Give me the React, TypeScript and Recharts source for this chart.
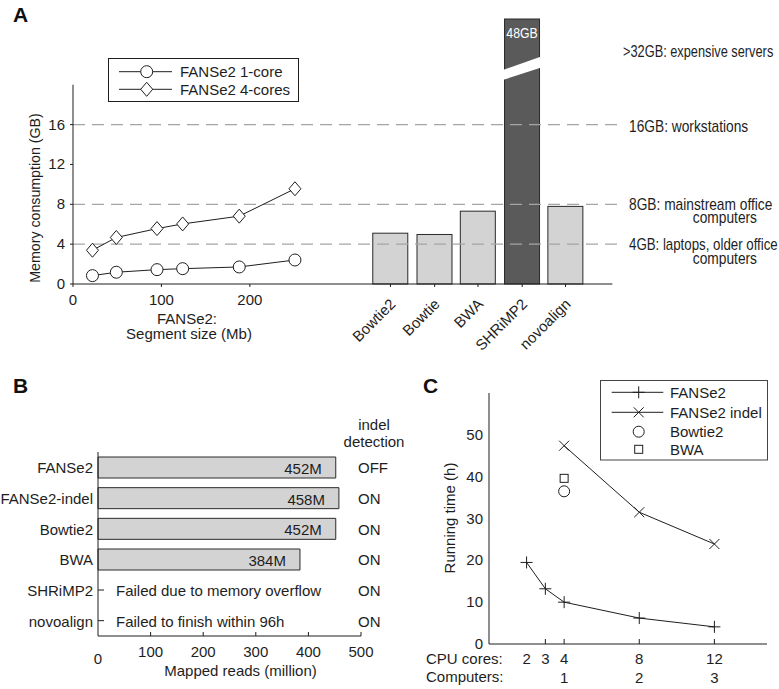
import React from "react";
import {
  ComposedChart,
  BarChart,
  Bar,
  Line,
  XAxis,
  YAxis,
  ReferenceLine,
  LabelList,
} from "recharts";

const SANS = "'Liberation Sans', Arial, Helvetica, sans-serif";
const INK = "#1e1e1e";
const LIGHT = "#d3d3d3";
const DARK = "#5a5a5a";

// ---- panel A: memory
const segSizeMb = [22, 49, 95, 124, 188, 251];
const mem1Core = [0.84, 1.18, 1.44, 1.54, 1.71, 2.41];
const mem4Cores = [3.39, 4.67, 5.56, 6.03, 6.81, 9.56];
const memSeries = ["FANSe2 1-core", "FANSe2 4-cores"];
const aligners = ["Bowtie2", "Bowtie", "BWA", "SHRiMP2", "novoalign"];
const alignerSlot = [359, 409, 458, 508, 557]; // slot of each tool on the shared x axis
const alignerMemGB = [5.1, 4.97, 7.31, 48, 7.79];
const memTicks = [0, 4, 8, 12, 16];
const segTicks = [0, 100, 200];
const tierLinesGB = [4, 8, 16];
const BREAK_TOP = 26.6; // drawn height of the bar that goes past the axis break
const BREAK_LEFT = [20.5, 21.5];
const BREAK_RIGHT = [21.7, 22.8];
const MEM_X_DOMAIN = [0, 622];

// ---- panel B: mapped reads
const readTools = ["FANSe2", "FANSe2-indel", "Bowtie2", "BWA", "SHRiMP2", "novoalign"];
const mappedReadsM = [452, 458, 452, 384, 0, 0];
const runNotes = ["", "", "", "", "Failed due to memory overflow", "Failed to finish within 96h"];
const indelDetection = ["OFF", "ON", "ON", "ON", "ON", "ON"];
const readTicks = [0, 100, 200, 300, 400, 500];

// ---- panel C: running time
const cpuCores = [2, 3, 4, 8, 12];
const computers = ["", "", "1", "2", "3"];
const fanse2Hours = [19.5, 13.2, 10, 6.2, 4.1];
const fanse2IndelHours = [null, null, 47.4, 31.5, 23.9];
const bowtie2Hours = [null, null, 36.5, null, null];
const bwaHours = [null, null, 39.6, null, null];
const hourTicks = [0, 10, 20, 30, 40, 50];
const timeSeries = ["FANSe2", "FANSe2 indel", "Bowtie2", "BWA"];

const segRows = segSizeMb.map((x, i) => ({ x, core1: mem1Core[i], core4: mem4Cores[i] }));
const toolRows = aligners.map((name, i) => ({
  x: alignerSlot[i],
  name,
  mem: alignerMemGB[i],
  drawn: Math.min(alignerMemGB[i], BREAK_TOP),
}));

const readRows = readTools.map((tool, i) => ({ tool, reads: mappedReadsM[i] }));

const timeRows = cpuCores.map((cores, i) => ({
  cores,
  fanse2: fanse2Hours[i],
  indel: fanse2IndelHours[i],
  bowtie2: bowtie2Hours[i],
  bwa: bwaHours[i],
}));

const txt = { fontFamily: SANS, fontSize: 15, fill: INK };

// condensed lettering (no narrow font installed, so squeeze Liberation Sans)
const Narrow = ({ x, y, anchor = "start", fill = INK, size = 16, squeeze = 0.82, children }: any) => (
  <text
    transform={`translate(${x},${y}) scale(${squeeze},1)`}
    textAnchor={anchor}
    fontFamily={SANS}
    fontSize={size}
    fill={fill}
  >
    {children}
  </text>
);

// markers
const CircleMark = ({ cx, cy, r = 6 }: any) => (
  <circle cx={cx} cy={cy} r={r} fill="#fff" stroke={INK} strokeWidth={1} />
);
const DiamondMark = ({ cx, cy }: any) => (
  <polygon
    points={`${cx},${cy - 7} ${cx + 6},${cy} ${cx},${cy + 7} ${cx - 6},${cy}`}
    fill="#fff"
    stroke={INK}
    strokeWidth={1}
  />
);
const PlusMark = ({ cx, cy }: any) => (
  <path d={`M${cx - 6},${cy}H${cx + 6}M${cx},${cy - 6}V${cy + 6}`} stroke={INK} strokeWidth={1} />
);
const CrossMark = ({ cx, cy }: any) => (
  <path
    d={`M${cx - 5},${cy - 5}L${cx + 5},${cy + 5}M${cx - 5},${cy + 5}L${cx + 5},${cy - 5}`}
    stroke={INK}
    strokeWidth={1}
  />
);
const SquareMark = ({ cx, cy }: any) => (
  <rect x={cx - 4} y={cy - 4} width={8} height={8} fill="#fff" stroke={INK} strokeWidth={1} />
);

const dotOf = (Mark: any, extra: any = {}) => (p: any) =>
  p.cy == null || isNaN(p.cy) ? (
    <g key={p.index} />
  ) : (
    <Mark key={p.index} cx={p.cx} cy={p.cy} {...extra} />
  );

// ---- panel A pieces
const MemBar = (p: any) => {
  const { x, y, width, height, payload } = p;
  if (!height || isNaN(height)) return <g />;
  const broken = payload.mem > BREAK_TOP;
  const yAt = (v: number) => y + height - (v / payload.drawn) * height;
  return (
    <g>
      <rect
        x={x}
        y={y}
        width={width}
        height={height}
        fill={broken ? DARK : LIGHT}
        stroke="#2a2a2a"
        strokeWidth={1}
      />
      {broken && (
        <>
          <polygon
            points={`${x - 1},${yAt(BREAK_LEFT[1])} ${x + width + 1},${yAt(BREAK_RIGHT[1])} ${
              x + width + 1
            },${yAt(BREAK_RIGHT[0])} ${x - 1},${yAt(BREAK_LEFT[0])}`}
            fill="#fff"
          />
          <Narrow x={x + width / 2} y={y + 19} anchor="middle" fill="#fff" size={15}>
            {payload.mem}GB
          </Narrow>
        </>
      )}
    </g>
  );
};

const MemXTick = ({ x, y, payload }: any) => {
  const i = alignerSlot.indexOf(payload.value);
  return (
    <g>
      <line x1={x} y1={y} x2={x} y2={y + 3} stroke={INK} />
      {i < 0 ? (
        <text x={x} y={y + 21} textAnchor="middle" {...txt}>
          {payload.value}
        </text>
      ) : (
        <text transform={`translate(${x + 6},${y + 21}) rotate(-45)`} textAnchor="end" {...txt}>
          {aligners[i]}
        </text>
      )}
    </g>
  );
};

const MemYTick = ({ x, y, payload }: any) => (
  <g>
    <line x1={x - 3} y1={y} x2={x} y2={y} stroke={INK} />
    <text x={x - 8} y={y + 5} textAnchor="end" {...txt}>
      {payload.value}
    </text>
  </g>
);

function MemoryPanel() {
  return (
    <ComposedChart
      width={779}
      height={360}
      data={toolRows}
      margin={{ top: 19, right: 156, bottom: 75, left: 72 }}
    >
      <XAxis
        dataKey="x"
        type="number"
        domain={MEM_X_DOMAIN}
        ticks={[...segTicks, ...alignerSlot]}
        interval={0}
        tick={MemXTick}
        tickLine={false}
        axisLine={false}
        tickSize={0}
        tickMargin={0}
        height={1}
      />
      <XAxis xAxisId="tools" dataKey="x" type="number" domain={MEM_X_DOMAIN} hide />
      <YAxis
        type="number"
        domain={[0, BREAK_TOP]}
        ticks={memTicks}
        interval={0}
        tick={MemYTick}
        tickLine={false}
        axisLine={false}
        tickSize={0}
        tickMargin={0}
        width={1}
      />
      {tierLinesGB.map((v) => (
        <ReferenceLine
          key={v}
          y={v}
          stroke="#a5a5a5"
          strokeWidth={1.3}
          strokeDasharray="12 7"
        />
      ))}
      <Bar
        xAxisId="tools"
        dataKey="drawn"
        barSize={35}
        shape={MemBar}
        isAnimationActive={false}
      />
      <Line
        data={segRows}
        dataKey="core1"
        name={memSeries[0]}
        stroke={INK}
        strokeWidth={1}
        dot={dotOf(CircleMark)}
        activeDot={false}
        isAnimationActive={false}
      />
      <Line
        data={segRows}
        dataKey="core4"
        name={memSeries[1]}
        stroke={INK}
        strokeWidth={1}
        dot={dotOf(DiamondMark)}
        activeDot={false}
        isAnimationActive={false}
      />
      <ReferenceLine
        segment={[
          { x: 0, y: 0 },
          { x: 610, y: 0 },
        ]}
        stroke={INK}
        ifOverflow="visible"
      />
      <ReferenceLine
        segment={[
          { x: 0, y: 0 },
          { x: 0, y: 20 },
        ]}
        stroke={INK}
        ifOverflow="visible"
      />
    </ComposedChart>
  );
}

// ---- panel B pieces
const ReadsXTick = ({ x, y, payload }: any) => (
  <g>
    {payload.value > 0 && <line x1={x} y1={y} x2={x} y2={y - 4} stroke={INK} />}
    <text x={x} y={y + (payload.value === 0 ? 28 : 21)} textAnchor="middle" {...txt}>
      {payload.value}
    </text>
  </g>
);

const ReadsYTick = ({ x, y, payload }: any) => {
  const i = readTools.indexOf(payload.value);
  const failed = !mappedReadsM[i];
  return (
    <g>
      <text x={x - 5} y={y + 6} textAnchor="end" {...txt}>
        {payload.value}
      </text>
      {failed && (
        <>
          <line x1={x} y1={y} x2={x + 6} y2={y} stroke={INK} />
          <text x={x + 18} y={y + 6} {...txt}>
            {runNotes[i]}
          </text>
        </>
      )}
    </g>
  );
};

const IndelTick = ({ x, y, payload }: any) => (
  <text x={x - 3} y={y + 6} {...txt}>
    {indelDetection[readTools.indexOf(payload.value)]}
  </text>
);

const ReadsLabel = (props: any) => {
  const vb = props.viewBox || props;
  const { value } = props;
  if (!value) return null;
  return (
    <text x={vb.x + vb.width - 14} y={vb.y + vb.height / 2 + 6.5} textAnchor="end" {...txt}>
      {value}M
    </text>
  );
};

function ReadsPanel() {
  return (
    <BarChart
      width={420}
      height={329}
      layout="vertical"
      data={readRows}
      margin={{ top: 92, right: 58, bottom: 52, left: 97 }}
    >
      <XAxis
        type="number"
        domain={[0, 500]}
        ticks={readTicks}
        interval={0}
        tick={ReadsXTick}
        tickLine={false}
        tickSize={0}
        tickMargin={0}
        height={1}
        axisLine={{ stroke: INK }}
      />
      <YAxis
        type="category"
        dataKey="tool"
        interval={0}
        tick={ReadsYTick}
        tickLine={false}
        tickSize={0}
        tickMargin={0}
        width={1}
        axisLine={{ stroke: INK }}
      />
      <YAxis
        yAxisId="indel"
        orientation="right"
        type="category"
        dataKey="tool"
        interval={0}
        tick={IndelTick}
        tickLine={false}
        axisLine={false}
        tickSize={0}
        tickMargin={0}
        width={1}
      />
      <Bar dataKey="reads" barSize={21} fill={LIGHT} stroke="#2a2a2a" isAnimationActive={false}>
        <LabelList dataKey="reads" content={ReadsLabel} />
      </Bar>
    </BarChart>
  );
}

// ---- panel C pieces
const CoreTick = ({ x, y, payload }: any) => {
  const i = cpuCores.indexOf(payload.value);
  return (
    <g>
      {i > 0 && <line x1={x} y1={y} x2={x} y2={y - 5} stroke={INK} />}
      <text x={x} y={y + 20} textAnchor="middle" {...txt}>
        {payload.value}
      </text>
      <text x={x} y={y + 38.5} textAnchor="middle" {...txt}>
        {computers[i]}
      </text>
    </g>
  );
};

const HourTick = ({ x, y, payload }: any) => (
  <text x={x - 6} y={y + 5} textAnchor="end" {...txt}>
    {payload.value}
  </text>
);

function TimePanel() {
  return (
    <ComposedChart
      width={369}
      height={329}
      data={timeRows}
      margin={{ top: 33, right: 12, bottom: 44, left: 78 }}
    >
      <XAxis
        dataKey="cores"
        type="number"
        domain={[0, 14.8]}
        ticks={cpuCores}
        interval={0}
        tick={CoreTick}
        tickLine={false}
        tickSize={0}
        tickMargin={0}
        height={1}
        axisLine={{ stroke: INK }}
      />
      <YAxis
        type="number"
        domain={[0, 60]}
        ticks={hourTicks}
        interval={0}
        tick={HourTick}
        tickLine={false}
        tickSize={0}
        tickMargin={0}
        width={1}
        axisLine={{ stroke: INK }}
      />
      <Line
        dataKey="fanse2"
        name={timeSeries[0]}
        stroke={INK}
        strokeWidth={1}
        dot={dotOf(PlusMark)}
        activeDot={false}
        isAnimationActive={false}
      />
      <Line
        dataKey="indel"
        name={timeSeries[1]}
        stroke={INK}
        strokeWidth={1}
        dot={dotOf(CrossMark)}
        activeDot={false}
        isAnimationActive={false}
      />
      <Line
        dataKey="bowtie2"
        name={timeSeries[2]}
        stroke="none"
        dot={dotOf(CircleMark, { r: 5.5 })}
        activeDot={false}
        isAnimationActive={false}
      />
      <Line
        dataKey="bwa"
        name={timeSeries[3]}
        stroke="none"
        dot={dotOf(SquareMark)}
        activeDot={false}
        isAnimationActive={false}
      />
    </ComposedChart>
  );
}

// ---- titles, legends, side notes
function Overlay() {
  const bold = { fontFamily: SANS, fontSize: 21, fontWeight: 700, fill: "#111" };
  return (
    <svg
      width={779}
      height={689}
      style={{ position: "absolute", left: 0, top: 0, pointerEvents: "none" }}
    >
      <text x={13} y={22} {...bold}>A</text>
      <text x={13} y={393} {...bold}>B</text>
      <text x={423} y={393} {...bold}>C</text>

      {/* panel A */}
      <text transform="translate(40,198) rotate(-90)" textAnchor="middle" {...txt} fontSize={14.2}>
        Memory consumption (GB)
      </text>
      <text x={187} y={324} textAnchor="middle" {...txt}>FANSe2:</text>
      <text x={189} y={339} textAnchor="middle" {...txt}>Segment size (Mb)</text>

      <rect x={108.5} y={58.5} width={190} height={43} fill="#fff" stroke={INK} />
      <line x1={119} y1={71.7} x2={172} y2={71.7} stroke={INK} />
      <CircleMark cx={146.7} cy={71.7} />
      <text x={180} y={77} {...txt}>{memSeries[0]}</text>
      <line x1={119} y1={89.3} x2={172} y2={89.3} stroke={INK} />
      <DiamondMark cx={146.7} cy={89.3} />
      <text x={180} y={94.5} {...txt}>{memSeries[1]}</text>

      <Narrow x={623} y={56.5} squeeze={0.8}>&gt;32GB: expensive servers</Narrow>
      <Narrow x={629} y={131.5} squeeze={0.86}>16GB: workstations</Narrow>
      <Narrow x={629} y={209.5} squeeze={0.86}>8GB: mainstream office</Narrow>
      <Narrow x={757} y={223} anchor="end" squeeze={0.86}>computers</Narrow>
      <Narrow x={629} y={250} squeeze={0.83}>4GB: laptops, older office</Narrow>
      <Narrow x={757} y={263.5} anchor="end" squeeze={0.86}>computers</Narrow>

      {/* panel B */}
      <text x={374} y={430} textAnchor="middle" {...txt}>indel</text>
      <text x={374} y={447} textAnchor="middle" {...txt}>detection</text>
      <text x={240.5} y={676} textAnchor="middle" {...txt}>Mapped reads (million)</text>

      {/* panel C */}
      <text transform="translate(455,518) rotate(-90)" textAnchor="middle" {...txt}>
        Running time (h)
      </text>
      <text x={426} y={663.5} {...txt}>CPU cores:</text>
      <text x={426} y={682} {...txt}>Computers:</text>

      <rect x={600.5} y={380.5} width={167} height={79.5} fill="#fff" stroke="#444" />
      <line x1={611.7} y1={392.3} x2={663.3} y2={392.3} stroke={INK} />
      <PlusMark cx={638.7} cy={392.3} />
      <text x={670} y={397.8} {...txt}>{timeSeries[0]}</text>
      <line x1={611.7} y1={412.3} x2={663.3} y2={412.3} stroke={INK} />
      <CrossMark cx={638.7} cy={412.3} />
      <text x={670} y={417.8} {...txt}>{timeSeries[1]}</text>
      <CircleMark cx={638.7} cy={431.7} r={5.5} />
      <text x={670} y={437.2} {...txt}>{timeSeries[2]}</text>
      <SquareMark cx={638.7} cy={449.3} />
      <text x={670} y={454.8} {...txt}>{timeSeries[3]}</text>
    </svg>
  );
}

export default function App() {
  return (
    <div
      style={{
        position: "absolute",
        left: 0,
        top: 0,
        width: 779,
        height: 689,
        background: "#fff",
        fontFamily: SANS,
      }}
    >
      <div style={{ position: "absolute", left: 0, top: 0 }}>
        <MemoryPanel />
      </div>
      <div style={{ position: "absolute", left: 0, top: 360 }}>
        <ReadsPanel />
      </div>
      <div style={{ position: "absolute", left: 410, top: 360 }}>
        <TimePanel />
      </div>
      <Overlay />
    </div>
  );
}
